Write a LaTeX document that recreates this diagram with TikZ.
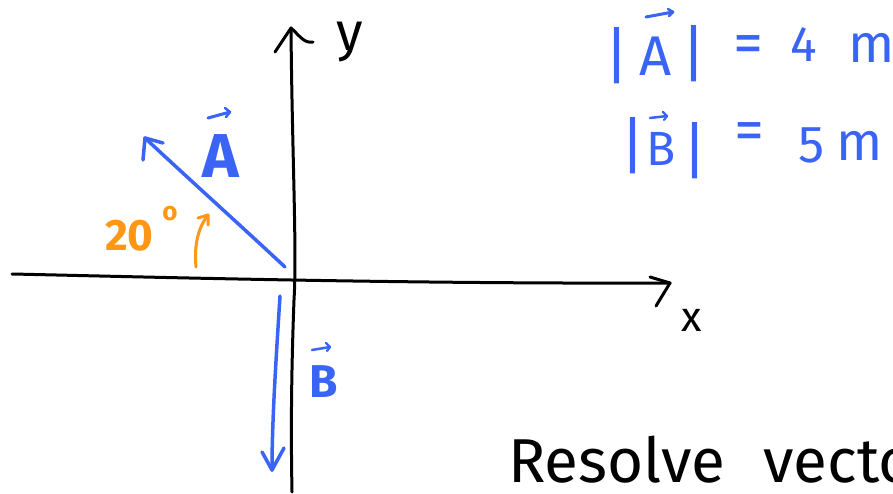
\documentclass[tikz,border=0pt]{standalone}
\usepackage{fontspec}
\setmainfont{Fira Sans}
\usetikzlibrary{calc}
\begin{document}
\begin{tikzpicture}[x=1pt,y=-1pt,line cap=round,line join=round]
\definecolor{vblue}{RGB}{58,100,245}
\definecolor{vorange}{RGB}{255,150,20}
\tikzset{
  axis/.style={black,line width=3pt},
  vecline/.style={vblue,line width=3.5pt},
  angline/.style={vorange,line width=3pt},
  lbl/.style={inner sep=0pt,outer sep=0pt},
  bluetxt/.style={lbl,text=vblue},
}
\useasboundingbox (0,0) rectangle (893,494);
\clip (0,0) rectangle (893,494);
\fill[white] (0,0) rectangle (893,494);

% ---- x axis
\coordinate (xL) at (12,274);
\coordinate (xR) at (670,283);
\coordinate (xb1) at (650,277);
\coordinate (xb2) at (656,306);
\draw[axis] (xL) .. controls (150,277) and (400,284) .. (xR);
\draw[axis] (xb1) -- (xR) -- (xb2);
\node[lbl,font=\fontsize{42}{42}\selectfont,anchor=center] (xlab) at (692,320) {x};

% ---- y axis
\coordinate (yT) at (291,28);
\coordinate (yB) at (292,492);
\coordinate (yb1) at (275,52);
\coordinate (yb2) at (313,42);
\draw[axis] (yT) .. controls (292,150) and (297,250) .. (294,300)
            .. controls (291,380) and (291,440) .. (yB);
\draw[axis] (yb1) -- (yT) .. controls (298,34) and (304,44) .. (yb2);
\node[lbl,font=\fontsize{54}{54}\selectfont,anchor=center] (ylab) at (350,42) {y};

% ---- vector A
\coordinate (Ao) at (285,267);
\coordinate (At) at (145,138);
\coordinate (Ab1) at (163,143);
\coordinate (Ab2) at (143,160);
\draw[vecline] (Ao) .. controls (240,225) and (190,180) .. (At);
\draw[vecline] (Ab1) -- (At) -- (Ab2);
\node[bluetxt,font=\fontsize{62}{62}\selectfont\bfseries,anchor=center] (Alab) at (221,156) {A};
\coordinate (Aa1) at (208,118);
\coordinate (Aa2) at (230,112);
\draw[vblue,line width=3pt] (Aa1) -- (Aa2);
\draw[vblue,line width=2.5pt] ($(Aa2)+(-5,-4)$) -- (Aa2) -- ($(Aa2)+(-4,5)$);

% ---- angle 20 deg
\node[lbl,text=vorange,font=\fontsize{44}{44}\selectfont\bfseries,anchor=base west] (ang) at (105,251) {20};
\node[lbl,text=vorange,font=\fontsize{26}{26}\selectfont\bfseries,anchor=center] (deg) at (170,214) {o};
\coordinate (g0) at (196,267);
\coordinate (g1) at (208,215);
\draw[angline] (g0) .. controls (194,245) and (198,228) .. (g1);
\draw[angline] ($(g1)+(-10,3)$) -- (g1) -- ($(g1)+(0,10)$);

% ---- vector B
\coordinate (Bo) at (280,296);
\coordinate (Bt) at (272,470);
\coordinate (Bb1) at (262,452);
\coordinate (Bb2) at (284,448);
\draw[vecline] (Bo) .. controls (276,360) and (272,420) .. (Bt);
\draw[vecline] (Bb1) -- (Bt) -- (Bb2);
\node[bluetxt,font=\fontsize{46}{46}\selectfont\bfseries,anchor=center] (Blab) at (324,382) {B};
\coordinate (Ba1) at (312,350);
\coordinate (Ba2) at (330,347);
\draw[vblue,line width=2.5pt] (Ba1) -- (Ba2);
\draw[vblue,line width=2.2pt] ($(Ba2)+(-4,-4)$) -- (Ba2) -- ($(Ba2)+(-3,4)$);

% ---- magnitudes
\node[bluetxt,font=\fontsize{62}{62}\selectfont,anchor=base] (barA1) at (617,78) {|};
\node[bluetxt,font=\fontsize{56}{56}\selectfont,anchor=base] (mA) at (656,76) {A};
\node[bluetxt,font=\fontsize{62}{62}\selectfont,anchor=base] (barA2) at (694,76) {|};
\coordinate (mAa1) at (646,17);
\coordinate (mAa2) at (673,12);
\draw[vblue,line width=3pt] (mAa1) -- (mAa2);
\draw[vblue,line width=2.5pt] ($(mAa2)+(-5,-3)$) -- (mAa2) -- ($(mAa2)+(-4,4)$);
\node[bluetxt,font=\fontsize{60}{60}\selectfont,anchor=center] (eqA) at (748,50) {=};
\node[bluetxt,font=\fontsize{50}{50}\selectfont,anchor=base] (four) at (804,62) {4};
\node[bluetxt,font=\fontsize{54}{54}\selectfont,anchor=base west] (mmA) at (848,63) {m};

\node[bluetxt,font=\fontsize{62}{62}\selectfont,anchor=base] (barB1) at (633,168) {|};
\node[bluetxt,font=\fontsize{48}{48}\selectfont,anchor=base] (mB) at (661,166) {B};
\node[bluetxt,font=\fontsize{62}{62}\selectfont,anchor=base] (barB2) at (695,173) {|};
\coordinate (mBa1) at (650,118);
\coordinate (mBa2) at (667,116);
\draw[vblue,line width=2.5pt] (mBa1) -- (mBa2);
\draw[vblue,line width=2.2pt] ($(mBa2)+(-4,-4)$) -- (mBa2) -- ($(mBa2)+(-3,4)$);
\node[bluetxt,font=\fontsize{60}{60}\selectfont,anchor=center] (eqB) at (749,137) {=};
\node[bluetxt,font=\fontsize{52}{52}\selectfont,anchor=base] (five) at (812,163) {5};
\node[bluetxt,font=\fontsize{54}{54}\selectfont,anchor=base west] (mmB) at (836,161) {m};

% ---- bottom text
\node[lbl,font=\fontsize{62}{62}\selectfont,anchor=base west] (res) at (508,482) {Resolve\hspace{0.62em}vectors};
\end{tikzpicture}
\end{document}
